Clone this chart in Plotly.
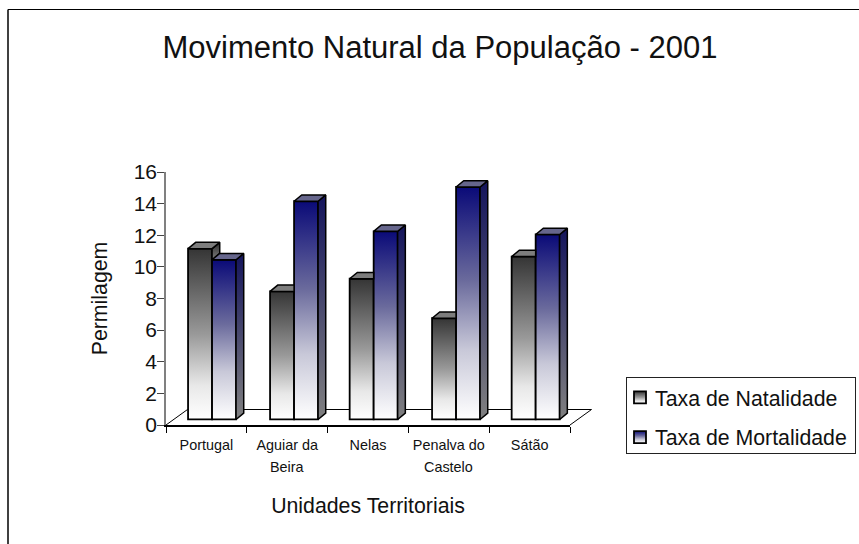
import plotly.graph_objects as go

categories = ["Portugal", "Aguiar da", "Nelas", "Penalva do", "Sátão"]
second_lines = ["", "Beira", "", "Castelo", ""]
natalidade = [10.8, 8.1, 8.9, 6.4, 10.3]
mortalidade = [10.1, 13.8, 11.9, 14.7, 11.7]

# layout constants in pixels
W, H = 859, 544
L, AX_R, T, B = 166, 570, 172, 425
FULL_R = 859  # plot area runs to the page edge; x axis occupies only part of it
# geometry in axis units (1 category = 80.8 px, 1 y unit = 15.8 px)
BASE = 0.35
DX, DY = 0.095, 0.40
BW = 0.297
FLOOR_DX_PX, FLOOR_DY_PX = 21.5, 15.5
centers = [0.57, 1.585, 2.57, 3.59, 4.575]

NAT_COL = "#8a8a8a"
MOR_COL = "#6a6aa0"
TOP = {"nat": "#7d7d7d", "mor": "#66668c"}
SIDE = {"nat": ["#2a2a2a", "#808080"], "mor": ["#14145c", "#808080"]}

fig = go.Figure()
fig.add_bar(name="Taxa de Natalidade", x=centers, y=natalidade, base=BASE, width=BW, offset=-BW, legendgroup="a",
            marker=dict(color=NAT_COL, line=dict(color="black", width=1.8)), hoverinfo="skip")
fig.add_bar(name="Taxa de Mortalidade", x=centers, y=mortalidade, base=BASE, width=BW, offset=0, legendgroup="b",
            marker=dict(color=MOR_COL, line=dict(color="black", width=1.8)), hoverinfo="skip")


def poly(xs, ys, key, gradient=None):
    kw = dict(x=xs + xs[:1], y=ys + ys[:1], mode="lines", fill="toself", showlegend=False, hoverinfo="skip",
              line=dict(color="black", width=1.5), cliponaxis=False)
    if gradient:
        kw["fillgradient"] = dict(type="vertical", colorscale=[[0, gradient[1]], [1, gradient[0]]])
    else:
        kw["fillcolor"] = TOP[key]
    fig.add_scatter(**kw)


for c, n, m in zip(centers, natalidade, mortalidade):
    x0, x1, x2 = c - BW, c, c + BW
    yn, ym = n + BASE, m + BASE
    # natalidade side (only the part above the neighbouring bar)
    if yn > ym:
        poly([x1, x1 + DX, x1 + DX, x1], [yn, yn + DY, ym + DY, ym], "nat", SIDE["nat"])
        poly([x0, x1, x1 + DX, x0 + DX], [yn, yn, yn + DY, yn + DY], "nat")
    else:
        poly([x0, x1, x1, x0 + DX], [yn, yn, yn + DY, yn + DY], "nat")
    # mortalidade side and top
    poly([x2, x2 + DX, x2 + DX, x2], [ym, ym + DY, BASE + DY, BASE], "mor", SIDE["mor"])
    poly([x1, x2, x2 + DX, x1 + DX], [ym, ym, ym + DY, ym + DY], "mor")

annotations = [
    dict(x=i + 0.5, y=(B - 467) / (B - T), xref="x", yref="paper", text=t, showarrow=False,
         font=dict(family="Liberation Sans", size=14.4, color="#111"), yanchor="middle")
    for i, t in enumerate(second_lines) if t
]

n_cat = len(categories)
px = lambda v: (v - L) / (FULL_R - L)
py = lambda v: (B - v) / (B - T)
shapes = [
    # visible chart frame: left and top edges
    dict(type="line", xref="paper", yref="paper", layer="below", x0=px(8), x1=px(8), y0=py(544), y1=py(9.5),
         line=dict(color="#404040", width=2)),
    dict(type="line", xref="paper", yref="paper", layer="below", x0=px(8), x1=px(859), y0=py(9.5), y1=py(9.5),
         line=dict(color="black", width=1)),
    # floor
    dict(type="path", xref="paper", yref="paper", layer="below",
         path=(f"M {px(L)} {py(B)} L {px(L + FLOOR_DX_PX)} {py(B - FLOOR_DY_PX)} "
               f"L {px(AX_R + FLOOR_DX_PX)} {py(B - FLOOR_DY_PX)} L {px(AX_R)} {py(B)}"),
         line=dict(color="black", width=1)),
]

fig.update_layout(
    width=W, height=H, autosize=False,
    margin=dict(l=L, r=W - FULL_R, t=T, b=H - B, pad=0),
    paper_bgcolor="white", plot_bgcolor="rgba(0,0,0,0)",
    font=dict(family="Liberation Sans", color="black"),
    title=dict(text="Movimento Natural da População - 2001", x=440 / W, xanchor="center", y=1 - 47 / H,
               yanchor="middle", font=dict(size=31, family="Liberation Sans", color="#111")),
    barmode="overlay",
    showlegend=True,
    legend=dict(x=px(615), xanchor="left", y=py(377), yanchor="top",
                bgcolor="rgba(0,0,0,0)", borderwidth=0,
                font=dict(size=21.3, family="Liberation Sans", color="#111"),
                itemclick=False, itemdoubleclick=False, tracegroupgap=9, itemwidth=30),
    xaxis=dict(domain=[0, (AX_R - L) / (FULL_R - L)], range=[0, n_cat], tickmode="array",
               tickvals=[i + 0.5 for i in range(n_cat)],
               ticktext=categories, ticks="outside", ticklen=6, tickcolor="rgba(0,0,0,0)",
               showline=True, linecolor="black", linewidth=1.5,
               showgrid=False, zeroline=False, tickfont=dict(size=14.4, color="#111"),
               minor=dict(tickmode="array", tickvals=list(range(n_cat + 1)), ticks="outside", ticklen=6,
                          tickcolor="black", showgrid=False),
               title=dict(text="Unidades Territoriais", font=dict(size=21.3, color="#111"), standoff=46),
               fixedrange=True),
    yaxis=dict(range=[0, 16], tickmode="array", tickvals=list(range(0, 17, 2)), ticks="outside", ticklen=7,
               tickcolor="#444", showline=True, linecolor="#808080", linewidth=1.5, showgrid=False, zeroline=False,
               tickfont=dict(size=21, color="#111"), ticklabelstandoff=-4,
               title=dict(text="Permilagem", font=dict(size=21.3, color="#111"), standoff=20),
               fixedrange=True),
    shapes=shapes,
    annotations=annotations,
)

post = """
document.body.style.margin = '0';
var gd = document.querySelector('.plotly-graph-div');
var svg = gd.querySelector('svg.main-svg');
var NS = 'http://www.w3.org/2000/svg';
var defs = document.createElementNS(NS, 'defs');
function grad(id, stops) {
  var g = document.createElementNS(NS, 'linearGradient');
  g.setAttribute('id', id); g.setAttribute('x1', '0'); g.setAttribute('y1', '0');
  g.setAttribute('x2', '0'); g.setAttribute('y2', '1');
  stops.forEach(function (s) {
    var st = document.createElementNS(NS, 'stop');
    st.setAttribute('offset', s[0]); st.setAttribute('stop-color', s[1]); g.appendChild(st);
  });
  defs.appendChild(g);
}
grad('gradNat', [[0, '#353535'], [0.5, '#999999'], [0.8, '#e8e8e8'], [1, '#ffffff']]);
grad('gradMor', [[0, '#0a0a78'], [0.4, '#6a6a9c'], [0.7, '#c8c8d8'], [1, '#ffffff']]);
svg.insertBefore(defs, svg.firstChild);
var traces = gd.querySelectorAll('.barlayer .trace');
['gradNat', 'gradMor'].forEach(function (id, i) {
  traces[i].querySelectorAll('path').forEach(function (p) { p.style.fill = 'url(#' + id + ')'; });
});
var legs = gd.querySelectorAll('.legend .traces');
['gradNat', 'gradMor'].forEach(function (id, i) {
  legs[i].querySelectorAll('.legendpoints path').forEach(function (p) {
    p.style.fill = 'url(#' + id + ')';
    p.setAttribute('transform', 'translate(25,0)');
  });
});
var bg = gd.querySelector('.legend .bg');
bg.setAttribute('x', 11.5); bg.setAttribute('y', 0.5);
bg.setAttribute('width', 229); bg.setAttribute('height', 76);
bg.style.stroke = '#222'; bg.style.strokeWidth = '1px'; bg.style.fill = 'white';
"""
fig.write_html("out.html", post_script=post, config={"displayModeBar": False})
